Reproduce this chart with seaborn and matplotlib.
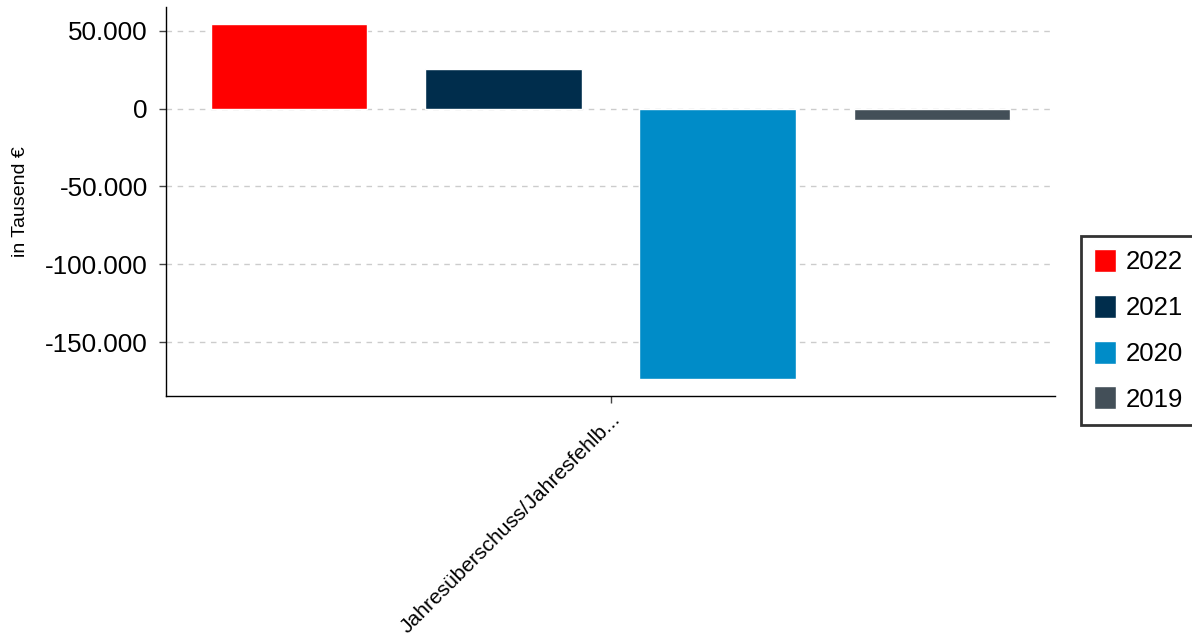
import matplotlib
matplotlib.use("Agg")
import matplotlib.pyplot as plt
import matplotlib.ticker as mticker
import seaborn as sns
import pandas as pd

categories = ["Jahresüberschuss/Jahresfehlb..."]
years = ["2022", "2021", "2020", "2019"]
values = [54200, 25400, -173400, -7300]
colors = ["#FF0000", "#002D4C", "#008CC8", "#434F58"]
y_ticks = [-150000, -100000, -50000, 0, 50000]

df = pd.DataFrame({
    "Kategorie": categories * len(years),
    "Jahr": years,
    "Wert": values,
})

sns.set_theme(style="white")
plt.rcParams["font.family"] = ["Liberation Sans", "DejaVu Sans"]

fig = plt.figure(figsize=(11.92, 6.42), dpi=100)
ax = fig.add_axes([166 / 1192, 1 - 396 / 642, (1055 - 166) / 1192, (396 - 7) / 642])

sns.barplot(data=df, x="Kategorie", y="Wert", hue="Jahr", hue_order=years,
            palette=dict(zip(years, colors)), saturation=1, width=0.8, gap=0.27,
            ax=ax, legend=True)

ax.set_xlim(-0.415, 0.415)
ax.set_ylim(-184500, 65200)
ax.set_yticks(y_ticks)
ax.yaxis.set_major_formatter(mticker.FuncFormatter(lambda v, p: f"{v:,.0f}".replace(",", ".")))
ax.yaxis.grid(True, linestyle=(0, (4, 4)), color="#CCCCCC", linewidth=1)
ax.set_axisbelow(True)

for s in ["top", "right"]:
    ax.spines[s].set_visible(False)
for s in ["left", "bottom"]:
    ax.spines[s].set_color("black")
    ax.spines[s].set_linewidth(1)

ax.tick_params(axis="y", labelsize=18.7, labelcolor="black", color="#444444", length=5, width=1, direction="out", left=True, pad=8)
ax.tick_params(axis="x", labelsize=15.1, labelcolor="black", color="#444444", length=5, width=1, direction="out", bottom=True, pad=5)
for lbl in ax.get_xticklabels():
    lbl.set_rotation(45)
    lbl.set_ha("right")
    lbl.set_rotation_mode("anchor")

ax.set_xlabel("")
ax.set_ylabel("in Tausend €", fontsize=14, color="black", labelpad=12)

handles, labels = ax.get_legend_handles_labels()
ax.legend_.remove()
leg = fig.legend(handles, labels, loc="upper left", bbox_to_anchor=(1081 / 1192, 1 - 236 / 642),
                 bbox_transform=fig.transFigure, borderaxespad=0, frameon=True, fancybox=False,
                 edgecolor="black", fontsize=18.5, handlelength=0.86, handleheight=1.0,
                 handletextpad=0.4, labelspacing=0.8, borderpad=0.5, labelcolor="black")
leg.get_frame().set_linewidth(2)

fig.savefig("out.png", dpi=100)
